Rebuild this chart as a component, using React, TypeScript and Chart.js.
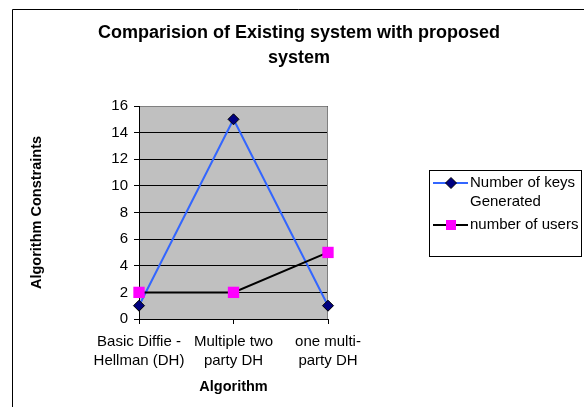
import React, { useEffect, useRef } from "react";
import { Chart, registerables } from "chart.js";

Chart.register(...registerables);

const categories = [
  ["Basic Diffie -", "Hellman (DH)"],
  ["Multiple two", "party DH"],
  ["one multi-", "party DH"],
];
const keysGenerated = [1, 15, 1];
const numberOfUsers = [2, 2, 5];
const titleLines = ["Comparision of Existing system with proposed", "system"];
const seriesNames = ["Number of keys Generated", "number of users"];
const legendLines = [["Number of keys", "Generated"], ["number of users"]];
const yTitle = "Algorithm Constraints";
const xTitle = "Algorithm";
const yTickMin = 0;
const yTickMax = 16;
const yTickStep = 2;

const FONT = '"Liberation Sans", Arial, Helvetica, sans-serif';

const decor = {
  id: "decor",
  beforeDraw(chart: any) {
    const { ctx, chartArea: a } = chart;
    ctx.save();
    ctx.fillStyle = "#fff";
    ctx.fillRect(0, 0, chart.width, chart.height);
    ctx.strokeStyle = "#000";
    ctx.lineWidth = 1;
    ctx.beginPath();
    ctx.moveTo(12.5, chart.height);
    ctx.lineTo(12.5, 9.5);
    ctx.lineTo(chart.width, 9.5);
    ctx.stroke();
    ctx.fillStyle = "#C0C0C0";
    ctx.fillRect(a.left, a.top, a.right - a.left, a.bottom - a.top);
    ctx.restore();
  },
  beforeDatasetsDraw(chart: any) {
    const { ctx, chartArea: a } = chart;
    ctx.save();
    ctx.strokeStyle = "#808080";
    ctx.lineWidth = 1;
    ctx.beginPath();
    ctx.moveTo(a.left + 1, Math.round(a.top) + 0.5);
    ctx.lineTo(Math.round(a.right) - 0.5, Math.round(a.top) + 0.5);
    ctx.lineTo(Math.round(a.right) - 0.5, a.bottom);
    ctx.stroke();
    ctx.restore();
  },
  afterDraw(chart: any) {
    const { ctx } = chart;
    ctx.save();
    // Title
    ctx.fillStyle = "#000";
    ctx.font = `bold 18px ${FONT}`;
    ctx.textAlign = "center";
    ctx.textBaseline = "middle";
    titleLines.forEach((t, i) => ctx.fillText(t, 299, 33 + i * 25));
    // Legend
    ctx.strokeStyle = "#000";
    ctx.lineWidth = 1;
    ctx.strokeRect(429.5, 170.5, 152, 86);
    ctx.font = `15px ${FONT}`;
    ctx.textAlign = "left";
    const ys = [183, 225];
    chart.data.datasets.forEach((ds: any, i: number) => {
      const y = ys[i];
      ctx.strokeStyle = ds.borderColor;
      ctx.lineWidth = ds.borderWidth;
      ctx.beginPath();
      ctx.moveTo(433, y);
      ctx.lineTo(468, y);
      ctx.stroke();
      const mx = 451;
      if (ds.pointStyle === "rectRot") {
        const r = ds.pointRadius;
        ctx.beginPath();
        ctx.moveTo(mx - r, y);
        ctx.lineTo(mx, y - r);
        ctx.lineTo(mx + r, y);
        ctx.lineTo(mx, y + r);
        ctx.closePath();
        ctx.fillStyle = ds.pointBackgroundColor;
        ctx.fill();
        ctx.strokeStyle = ds.pointBorderColor;
        ctx.lineWidth = ds.pointBorderWidth;
        ctx.stroke();
      } else {
        const s = 5;
        ctx.fillStyle = ds.pointBackgroundColor;
        ctx.fillRect(mx - s, y - s, 2 * s, 2 * s);
      }
      ctx.fillStyle = "#000";
      legendLines[i].forEach((t, j) => ctx.fillText(t, 470, y + j * 19));
    });
    ctx.restore();
  },
};

export default function App() {
  const ref = useRef<HTMLCanvasElement | null>(null);
  useEffect(() => {
    if (!ref.current) return;
    const chart = new Chart(ref.current, {
      type: "line",
      data: {
        labels: categories,
        datasets: [
          {
            label: seriesNames[0],
            data: keysGenerated,
            borderColor: "#3366FF",
            borderWidth: 2,
            pointStyle: "rectRot",
            pointRadius: 5.5,
            pointBackgroundColor: "#000080",
            pointBorderColor: "#000",
            pointBorderWidth: 1,
            tension: 0,
            clip: false,
            order: 1,
          },
          {
            label: seriesNames[1],
            data: numberOfUsers,
            borderColor: "#000",
            borderWidth: 2,
            pointStyle: "rect",
            pointRadius: 8,
            pointBackgroundColor: "#FF00FF",
            pointBorderColor: "#FF00FF",
            pointBorderWidth: 0,
            tension: 0,
            clip: false,
            order: 0,
          },
        ] as any,
      },
      options: {
        responsive: false,
        animation: false,
        events: [],
        layout: { padding: { left: 0, right: 256, top: 106, bottom: 0 } },
        plugins: {
          legend: { display: false },
          tooltip: { enabled: false },
          title: { display: false },
        },
        scales: {
          x: {
            offset: false,
            ticks: {
              font: { family: FONT, size: 15, lineHeight: 1.27 },
              color: "#000",
              padding: 8.5,
              maxRotation: 0,
              autoSkip: false,
            },
            grid: { drawOnChartArea: false, tickColor: "#000", tickLength: 5 },
            border: { color: "#000", width: 1 },
            title: {
              display: true,
              text: xTitle,
              color: "#000",
              font: { family: FONT, size: 14.5, weight: "bold" },
              padding: { top: 0, bottom: 11.3 },
            },
            afterFit(s: any) {
              s.height = 88;
            },
          },
          y: {
            min: yTickMin,
            max: yTickMax,
            ticks: {
              stepSize: yTickStep,
              font: { family: FONT, size: 15 },
              color: "#000",
              padding: 6,
            },
            grid: { color: "#000", tickColor: "#000", tickLength: 5, lineWidth: 1 },
            border: { color: "#000", width: 1 },
            title: {
              display: true,
              text: yTitle,
              color: "#000",
              font: { family: FONT, size: 14.5, weight: "bold" },
              padding: { top: 28, bottom: 0 },
            },
            afterFit(s: any) {
              s.width = 139;
            },
          },
        },
      } as any,
      plugins: [decor],
    });
    return () => chart.destroy();
  }, []);
  return (
    <div style={{ position: "fixed", left: 0, top: 0, width: 584, height: 407, background: "#fff" }}>
      <canvas ref={ref} width={584} height={407} style={{ display: "block" }} />
    </div>
  );
}
